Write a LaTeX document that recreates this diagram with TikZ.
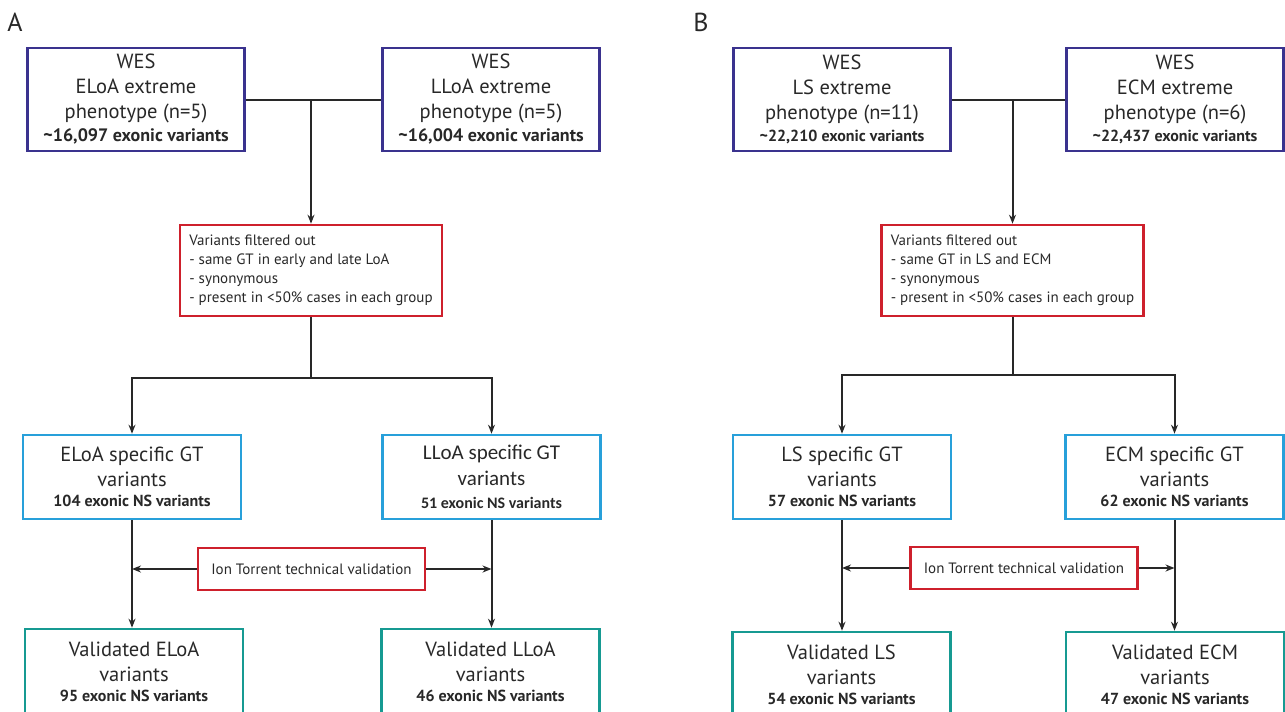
\documentclass[tikz,border=0pt]{standalone}
\usepackage{fontspec}
\setmainfont{PT Sans}
\newfontfamily\carlito{Carlito}
\usepackage{tikz}
\usetikzlibrary{arrows.meta}
\definecolor{wescol}{RGB}{58,50,142}
\definecolor{filtcol}{RGB}{206,32,44}
\definecolor{speccol}{RGB}{40,160,218}
\definecolor{validcol}{RGB}{22,154,146}
\definecolor{inkcol}{RGB}{40,40,40}
\newcommand{\tot}[1]{{\fontsize{18}{21}\selectfont\bfseries #1}}
\newcommand{\totb}[1]{{\fontsize{16}{19}\selectfont\bfseries #1}}
\newcommand{\ns}[1]{{\fontsize{16}{19}\selectfont\bfseries #1}}
\begin{document}
\begin{tikzpicture}[x=1pt, y=-1pt, line width=2pt, color=inkcol, >={Stealth[length=9pt,width=7pt]},
  box/.style = {draw, line width=2.6pt, align=center, inner sep=0pt, font=\fontsize{20.5}{25}\selectfont},
  wes/.style = {box, draw=wescol, minimum width=217pt, minimum height=103pt},
  filt/.style = {box, draw=filtcol, align=left, minimum width=262pt, minimum height=91pt, font=\fontsize{15}{19}\selectfont},
  spec/.style = {box, draw=speccol, minimum width=218pt, minimum height=84pt},
  valid/.style = {box, draw=validcol, minimum width=218pt, minimum height=86pt},
  tech/.style = {box, draw=filtcol, minimum width=227pt, minimum height=42pt, font=\fontsize{15}{18}\selectfont},
  lab/.style = {font=\fontsize{26}{30}\selectfont}]
\clip (0,0) rectangle (1285,712);
% panel A
\node[lab] (labA) at (15,22) {A};
\node[wes] (wA1) at (136,99.5) {WES\\ELoA extreme\\phenotype (n=5)\\[-2pt]\tot{\textasciitilde16,097 exonic variants}};
\node[wes] (wA2) at (491,99.5) {WES\\LLoA extreme\\phenotype (n=5)\\[-2pt]\tot{\textasciitilde16,004 exonic variants}};
\node[filt] (fA) at (311,270.5) {Variants filtered out\\- same GT in early and late LoA\\- synonymous\\- present in <50\% cases in each group};
\node[spec] (sA1) at (132,477) {ELoA specific GT\\variants\\[-5pt]\ns{104 exonic NS variants}};
\node[spec, font=\carlito\fontsize{21}{26}\selectfont] (sA2) at (491.5,477) {LLoA specific GT\\variants\\[-3pt]\ns{51 exonic NS variants}};
\node[tech] (tA) at (311.5,569) {Ion Torrent technical validation};
\node[valid] (vA1) at (134,672) {Validated ELoA\\variants\\[-5pt]\ns{95 exonic NS variants}};
\node[valid] (vA2) at (490.5,672) {Validated LLoA\\variants\\[-5pt]\ns{46 exonic NS variants}};
\coordinate (jA) at ([yshift=-61pt]fA.south);
\draw (wA1) -- (wA2);
\draw[->] (fA.north |- wA1.east) -- (fA);
\draw (fA) -- (jA);
\draw[->] (jA) -| (sA1);
\draw[->] (jA) -| (sA2);
\draw[->] (sA1) -- (sA1 |- vA1.north);
\draw[->] (sA2) -- (sA2 |- vA2.north);
\draw[->] (tA) -- (tA -| sA1);
\draw[->] (tA) -- (tA -| sA2);
% panel B
\node[lab] (labB) at (701,22) {B};
\node[wes] (wB1) at (842,99.5) {WES\\LS extreme\\phenotype (n=11)\\[-3pt]\totb{\textasciitilde22,210 exonic variants}};
\node[wes] (wB2) at (1175,99.5) {WES\\ECM extreme\\phenotype (n=6)\\[-3pt]\totb{\textasciitilde22,437 exonic variants}};
\node[filt] (fB) at (1012.5,270.5) {Variants filtered out\\- same GT in LS and ECM\\- synonymous\\- present in <50\% cases in each group};
\node[spec] (sB1) at (842,477) {LS specific GT\\variants\\[-5pt]\ns{57 exonic NS variants}};
\node[spec] (sB2) at (1174.5,477) {ECM specific GT\\variants\\[-5pt]\ns{62 exonic NS variants}};
\node[tech] (tB) at (1024,568) {Ion Torrent technical validation};
\node[valid] (vB1) at (841.5,675) {Validated LS\\variants\\[-5pt]\ns{54 exonic NS variants}};
\node[valid] (vB2) at (1175,675) {Validated ECM\\variants\\[-5pt]\ns{47 exonic NS variants}};
\coordinate (jB) at ([yshift=-58pt]fB.south);
\draw (wB1) -- (wB2);
\draw[->] (fB.north |- wB1.east) -- (fB);
\draw (fB) -- (jB);
\draw[->] (jB) -| (sB1);
\draw[->] (jB) -| (sB2);
\draw[->] (sB1) -- (sB1 |- vB1.north);
\draw[->] (sB2) -- (sB2 |- vB2.north);
\draw[->] (tB) -- (tB -| sB1);
\draw[->] (tB) -- (tB -| sB2);
\end{tikzpicture}
\end{document}
